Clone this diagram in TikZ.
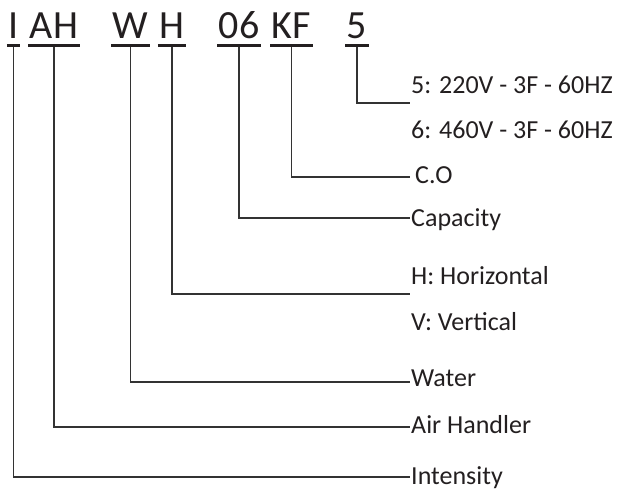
\documentclass[tikz,border=0pt]{standalone}
\usepackage{fontspec}
\setmainfont{Carlito}
\definecolor{ink}{HTML}{231F20}
\definecolor{wire}{HTML}{333333}
\begin{document}
\begin{tikzpicture}[x=1pt,y=-1pt,
  code/.style={anchor=base,inner xsep=1.5pt,inner ysep=0pt,text=ink,font=\fontsize{40}{48}\selectfont},
  lbl/.style={anchor=base west,inner sep=0pt,text=ink,font=\fontsize{26}{31}\selectfont},
  uline/.style={draw=ink,line width=3pt},
  conn/.style={draw=wire,line width=1.1pt}]
\useasboundingbox (0,0) rectangle (619,488);
% code letters
\node[code] (cI)  at (13.5,38) {I};
\node[code] (cAH) at (54,38) {AH};
\node[code] (cW)  at (130.5,38) {W};
\node[code] (cH)  at (172,38) {H};
\node[code] (c06) at (239,38) {06};
\node[code] (cKF) at (291.5,38) {KF};
\node[code] (c5)  at (357,38) {5};
% underlines and tick origins
\foreach \n in {cI,cAH,cW,cH,c06,cKF,c5}{
  \draw[uline] ([yshift=-7.5pt]\n.base west) -- ([yshift=-7.5pt]\n.base east);
  \coordinate (u\n) at ([yshift=-9pt]\n.base);
}
% labels
\node[lbl] (l5)   at (411,93)  {5: 220V - 3F - 60HZ};
\node[lbl] (l6)   at (411,138) {6: 460V - 3F - 60HZ};
\node[lbl] (lCO)  at (415,183) {C.O};
\node[lbl] (lCap) at (411,226) {Capacity};
\node[lbl] (lHz)  at (411,284) {H: Horizontal};
\node[lbl] (lV)   at (411,330) {V: Vertical};
\node[lbl] (lW)   at (411,386) {Water};
\node[lbl] (lAH)  at (411,433) {Air Handler};
\node[lbl] (lI)   at (411,484) {Intensity};
% line ends
\coordinate (e5)  at (410,103);
\coordinate (eKF) at (410,177);
\coordinate (e06) at (410,218);
\coordinate (eH)  at (410,294);
\coordinate (eW)  at (410,382);
\coordinate (eAH) at (410,427);
\coordinate (eI)  at (410,477);
% connectors
\draw[conn] (uc5)  |- (e5);
\draw[conn] (ucKF) |- (eKF);
\draw[conn] (uc06) |- (e06);
\draw[conn] (ucH)  |- (eH);
\draw[conn] (ucW)  |- (eW);
\draw[conn] (ucAH) |- (eAH);
\draw[conn] (ucI)  |- (eI);
\end{tikzpicture}
\end{document}
